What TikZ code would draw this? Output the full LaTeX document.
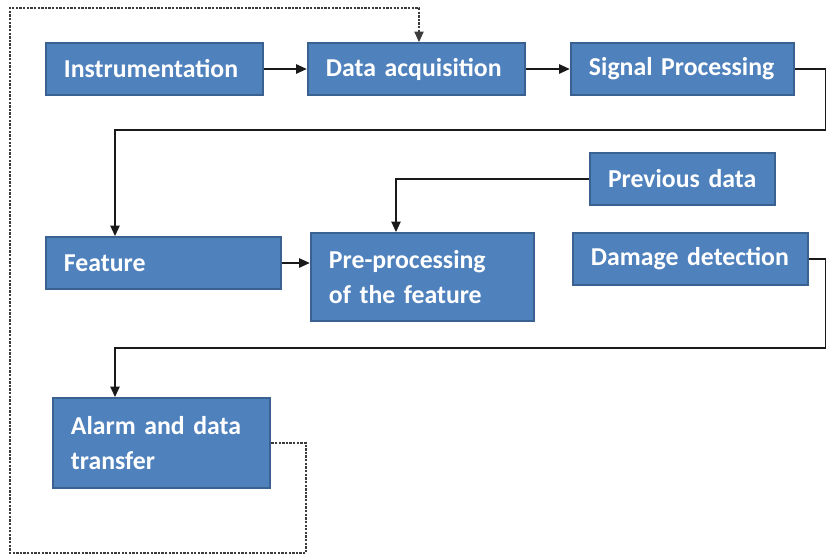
\documentclass[tikz,border=0pt]{standalone}
\usepackage{fontspec}
\setmainfont{Carlito}
\usetikzlibrary{positioning}
\usetikzlibrary{arrows.meta}

\definecolor{boxblue}{HTML}{4F81BD}
\definecolor{boxedge}{HTML}{3A6290}
\definecolor{wire}{HTML}{1A1A1A}

\tikzset{
  blk/.style={draw=boxedge, fill=boxblue, line width=1.6pt, text=white,
    font=\fontsize{22}{30}\selectfont\bfseries, align=left,
    inner xsep=0.55cm, inner ysep=0pt, minimum height=1.56cm},
  link/.style={->, >={Triangle[length=9pt, width=8pt]}, draw=wire, line width=1.1pt},
  back/.style={->, >={Triangle[length=9pt, width=8pt]}, draw=wire!85, line width=0.9pt,
    dash pattern=on 2pt off 1.1pt},
}

\begin{document}
\begin{tikzpicture}[x=0.03cm, y=-0.03cm]
            \useasboundingbox (0,0) rectangle (827,555);
            % Bloques
            \node[blk, text width=5.43cm] (instr) at (154.5,69) {Instrumentation};
            \node[blk, text width=5.43cm] (acq) at (416.5,69) {Data~acquisition};
            \node[blk, text width=5.61cm] (sig) at (682.5,69) {Signal~Processing};
            \node[blk, text width=4.47cm] (prev) at (682.5,179) {Previous~data};
            \node[blk, text width=5.97cm] (feat) at (163.5,263) {Feature};
            \node[blk, text width=5.61cm, minimum height=2.64cm] (pre) at (422.5,277) {Pre-processing\\of the feature};
            \node[blk, text width=5.97cm] (dmg) at (690.5,259) {Damage~detection};
            \node[blk, text width=5.43cm, minimum height=2.7cm] (alarm) at (161.5,443) {Alarm and data\\transfer};

            % Conexiones
            \draw[link] (instr) -- (acq);
            \draw[link] (acq) -- (sig);
            \draw[link] (sig.east) -- (825.5,69) -- (825.5,130) -- (115,130) -- (115,130 |- feat.north);
            \draw[link] (feat) -- (feat -| pre.west);
            \draw[link] (prev.west) -- (396,179) -- (396,179 |- pre.north);
            \draw[link] (dmg.east) -- (825.5,259) -- (825.5,348) -- (115,348) -- (115,348 |- alarm.north);
            \draw[back] (alarm.east) -- (306,443) -- (306,553) -- (10,553) -- (10,8) -- (419,8) -- (419,8 |- acq.north);
\end{tikzpicture}
\end{document}
